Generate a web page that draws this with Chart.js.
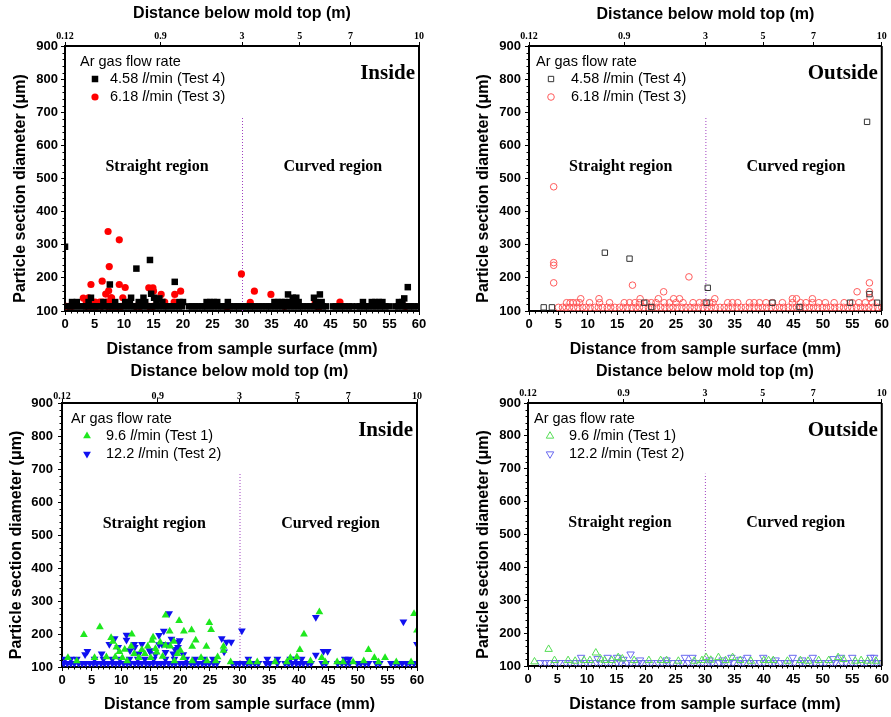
<!DOCTYPE html>
<html>
<head>
<meta charset="utf-8">
<script src="https://cdn.jsdelivr.net/npm/chart.js@4.4.1/dist/chart.umd.min.js"></script>
<style>
  body { margin: 0; background: #fff; width: 891px; height: 717px; position: relative; overflow: hidden; }
  canvas { position: absolute; }
</style>
</head>
<body>
<canvas id="p1" width="445" height="358" style="left:0;top:0"></canvas>
<canvas id="p2" width="446" height="358" style="left:445px;top:0"></canvas>
<canvas id="p3" width="445" height="359" style="left:0;top:358px"></canvas>
<canvas id="p4" width="446" height="359" style="left:445px;top:358px"></canvas>
<script>
// values
const topTickPos = [0, 16.2, 30, 39.8, 48.4, 60];
const topTickLabels = ["0.12", "0.9", "3", "5", "7", "10"];
const regionBoundary = 30;
const boundaryTop = 685;
const regionLabels = ["Straight region", "Curved region"];
const regionLabelX = [15.6, 45.4];
const regionLabelY = 535;

const flowRates = ["4.58", "6.18", "9.6", "12.2"];
const testNames = ["Test 4", "Test 3", "Test 1", "Test 2"];

// Test 4 (4.58 l/min), inside
const test4Inside = [
  [0,294],[7.6,180],[12.1,228],[14.4,254],[18.6,188],[58.1,172],
  [14.6,152],[37.8,150],[43.2,150],
  [4.4,140],[11.2,140],[13.3,140],[15.1,140],[16.0,138],[38.6,140],[39.2,140],[42.2,140],[57.5,138],
  [1.2,127],[2.0,127],[4.0,127],[6.5,127],[8.5,127],[10.2,127],[11.0,127],[12.5,127],[13.6,127],[15.5,127],
  [16.5,127],[19.4,127],[20.0,127],[24.0,127],[24.6,127],[25.2,127],[25.8,127],[27.6,127],[35.5,127],[36.1,127],
  [36.7,127],[37.3,127],[38.0,127],[39.0,127],[39.6,127],[42.5,127],[43.5,127],[50.5,127],[52.0,127],[52.6,127],
  [53.2,127],[53.8,127],[56.6,127],[57.2,127],
  [0.4,114],[0.9,114],[1.5,114],[2.0,114],[2.6,114],[3.1,114],[3.6,114],[4.1,114],[4.7,114],[5.2,114],
  [5.8,114],[6.3,114],[6.8,114],[7.4,114],[7.9,114],[8.5,114],[9.0,114],[9.5,114],[10.1,114],[10.6,114],
  [11.2,114],[11.7,114],[12.2,114],[12.8,114],[13.3,114],[13.9,114],[14.4,114],[14.9,114],[15.5,114],[16.0,114],
  [16.6,114],[17.1,114],[17.6,114],[18.2,114],[18.7,114],[19.3,114],[19.8,114],
  [21.0,114],[21.5,114],[22.1,114],[22.6,114],[23.2,114],[23.7,114],[24.2,114],[24.8,114],[25.3,114],[25.9,114],
  [26.4,114],[26.9,114],[27.5,114],[28.0,114],[28.6,114],[29.1,114],[29.6,114],[30.2,114],[30.7,114],[31.3,114],
  [31.8,114],[32.3,114],[32.9,114],[33.4,114],[34.0,114],[34.5,114],[35.0,114],[35.6,114],[36.1,114],[36.7,114],
  [37.2,114],[37.7,114],[38.3,114],[38.8,114],[39.4,114],[39.9,114],[40.4,114],[41.0,114],[41.5,114],[42.1,114],
  [42.6,114],[43.1,114],[43.7,114],[44.2,114],
  [45.4,114],[45.9,114],[46.5,114],[47.0,114],[47.5,114],[48.1,114],[48.6,114],
  [49.5,114],[50.0,114],[50.6,114],[51.1,114],[51.6,114],[52.2,114],[52.7,114],[53.3,114],[53.8,114],[54.3,114],[54.9,114],
  [56.0,114],[56.5,114],[57.1,114],[57.6,114],[58.2,114],[58.7,114],[59.2,114],[59.8,114]
];

// Test 3 (6.18 l/min), inside
const test3Inside = [
  [7.3,340],[9.2,315],[7.5,234],[6.3,190],[4.4,180],[9.2,180],[10.2,171],[7.4,161],[6.9,151],[7.9,140],
  [3.1,139],[4.0,140],[9.8,140],[14.2,170],[14.9,170],[15.0,160],[16.3,150],[18.6,150],[19.6,160],[18.5,127],
  [16.9,127],[29.9,212],[32.1,160],[34.9,150],[31.4,126],[42.4,127],[46.6,127],
  [3.6,127],[4.6,127],[5.1,127],[5.9,127],[6.4,127],[7.1,127],[8.2,127],[7.8,140],
  [0.2,114],[0.7,114],[1.2,114],[3.6,114],[4.3,114],[4.9,114],[5.4,114],[6.2,114],[7.2,114],[7.7,114],
  [8.3,114],[8.9,114],[9.5,114],[12.0,114],[12.7,114],[14.2,114],[14.9,114],[27.3,114],[27.7,114],[37.2,114],
  [42.7,114],[43.2,114],[57.7,114]
];

// Test 4 (4.58 l/min), outside
const test4Outside = [
  [2.5,111],[3.9,111],[12.9,276],[17.1,258],[30.4,170],[19.6,125],[41.4,125],[54.6,125],[57.9,151],
  [59.2,125],[57.5,671],[20.8,112],[30.2,125],[46.0,112]
];

// Test 3 (6.18 l/min), outside
const test3Outside = [
  [4.2,475],[4.2,246],[4.2,238],[4.2,185],[17.6,178],[27.2,203],[22.9,158],[55.8,158],[57.9,185],[57.9,158],[58.0,140],
  [8.8,137],[11.9,137],[18.9,137],[22.0,137],[24.6,137],[25.6,137],[31.6,137],[44.8,137],[45.5,137],[48.2,137],
  [6.4,125],[7.0,125],[7.5,125],[8.1,125],[8.6,125],[10.3,125],[12.0,125],[13.7,125],[16.2,125],[17.1,125],
  [18.0,125],[18.8,125],[20.0,125],[20.8,125],[21.6,125],[23.0,125],[23.9,125],[25.0,125],[26.2,125],[27.9,125],
  [29.0,125],[29.8,125],[30.7,125],[31.3,125],[33.8,125],[34.6,125],[35.5,125],[37.5,125],[38.3,125],[39.2,125],
  [40.3,125],[41.4,125],[43.1,125],[44.8,125],[46.2,125],[47.1,125],[48.2,125],[49.3,125],[50.4,125],[51.9,125],
  [53.6,125],[55.0,125],[56.1,125],[57.2,125],[58.4,125],
  [5.0,111],[5.7,111],[6.3,111],[6.9,111],[7.6,111],[8.3,111],[9.1,111],[9.7,111],[10.4,111],[11.2,111],
  [11.8,111],[12.5,111],[13.3,111],[13.9,111],[14.6,111],[15.4,111],[16.0,111],[16.7,111],[17.5,111],[18.2,111],
  [18.8,111],[19.5,111],[20.3,111],[21.0,111],[21.7,111],[22.4,111],[23.1,111],[23.9,111],[24.5,111],[25.2,111],
  [26.0,111],[26.7,111],[27.4,111],[28.1,111],[28.8,111],[29.6,111],[30.3,111],[31.0,111],[31.7,111],[32.5,111],
  [33.2,111],[33.9,111],[34.6,111],[35.4,111],[36.1,111],[36.8,111],[37.5,111],[38.3,111],[39.0,111],[39.7,111],
  [40.4,111],[41.2,111],[41.9,111],[42.6,111],[43.3,111],[44.1,111],[44.8,111],[45.5,111],[46.2,111],[47.0,111],
  [47.7,111],[48.4,111],[49.1,111],[49.9,111],[50.6,111],[51.3,111],[52.0,111],[52.8,111],[53.5,111],[54.2,111],
  [54.9,111],[55.7,111],[56.4,111],[57.1,111],[57.8,111],[58.5,111],[59.3,111],[60.0,111]
];

// Test 1 (9.6 l/min), inside
const test1Inside = [
  [3.7,198],[6.4,221],[8.3,189],[8.6,177],[11.8,199],[15.4,190],[17.5,257],[19.8,240],[18.2,208],[20.6,208],
  [21.9,212],[24.9,234],[25.2,213],[22.6,181],[22.0,162],[24.4,162],[27.3,162],[27.3,150],[15.2,180],[16.6,175],
  [17.5,165],[11.7,163],[10.6,153],[13.5,152],[14.5,163],[18.3,163],[18.9,177],[9.7,146],[12.2,140],[16.0,145],
  [19.5,140],[9.2,160],[15.8,155],[20.0,150],[14.0,140],[43.5,267],[40.9,199],[40.2,152],[51.8,152],[52.8,128],
  [54.6,128],[59.5,261],[60,211],[43.9,128],[38.6,128],[26.3,130],[39.7,130],
  [1.0,128],[2.5,118],[5.5,128],[7.5,130],[9.0,130],[10.2,128],[13.0,128],[15.0,128],[17.0,132],[20.5,128],
  [23.5,128],[26.0,118],[28.5,115],[31.7,115],[33.0,115],[36.0,115],[38.0,115],[42.0,118],[44.5,115],[46.5,115],
  [47.5,115],[49.2,115],[51.0,118],[53.5,115],[56.5,115],[59.0,115],[11.0,118],[19.0,118],[22.0,118],[24.5,118]
];

// Test 2 (12.2 l/min), inside
const test2Inside = [
  [18.1,262],[30.4,210],[42.9,251],[57.7,237],[60,169],[10.9,197],[8.9,186],[12.2,169],[13.5,169],[14.9,146],
  [16.4,196],[17.2,209],[16.4,168],[17.7,168],[19.7,176],[19.1,154],[8.0,169],[4.3,148],[3.9,138],[6.7,140],
  [27.0,186],[27.8,176],[28.6,176],[27.4,146],[42.9,136],[44.2,148],[44.9,148],[9.5,160],[12.3,160],[10.9,182],
  [18.5,185],[19.9,180],[19.6,160],[16.9,169],[14.8,150],[11.5,150],[13.0,140],[15.8,138],[17.5,145],[18.8,140],
  [20.5,138],
  [0.5,124],[1.5,124],[2.5,124],[5.5,124],[7.0,124],[8.5,124],[9.8,124],[11.4,124],[12.8,124],[14.0,124],
  [15.5,124],[17.5,124],[19.0,124],[21.0,124],[22.5,124],[24.0,124],[25.5,124],[31.5,124],[34.7,124],[36.4,124],
  [38.6,124],[39.5,124],[40.5,124],[47.8,124],[48.5,124],
  [0.3,111],[0.9,111],[1.5,111],[2.1,111],[2.8,111],[3.4,111],[4.0,111],[4.7,111],[5.3,111],[5.9,111],
  [6.6,111],[7.2,111],[7.8,111],[8.5,111],[9.1,111],[9.7,111],[10.4,111],[11.0,111],[11.6,111],[12.3,111],
  [12.9,111],[13.5,111],[14.2,111],[14.8,111],[15.4,111],[16.1,111],[16.7,111],[17.3,111],[18.0,111],[18.6,111],
  [19.2,111],[19.9,111],[20.5,111],[21.1,111],[21.8,111],[22.4,111],[23.0,111],[23.7,111],[24.3,111],[24.9,111],
  [25.6,111],[26.2,111],[28.8,111],[29.4,111],[30.0,111],[30.7,111],[31.3,111],[31.9,111],[32.6,111],[33.2,111],
  [34.5,111],[35.1,111],[36.4,111],[37.7,111],[38.3,111],[38.9,111],[39.6,111],[40.2,111],[40.8,111],[41.5,111],
  [42.1,111],[44.0,111],[44.6,111],[46.6,111],[47.3,111],[48.0,111],[48.6,111],[49.9,111],[50.5,111],[51.2,111],
  [51.8,111],[53.1,111],[53.7,111],[55.6,111],[56.3,111],[56.9,111],[57.5,111],[58.2,111],[58.8,111],[59.5,111]
];

// Test 1 (9.6 l/min), outside
const test1Outside = [
  [3.5,151],[1.1,113],[11.5,140],[15.3,126],[30.2,126],[32.3,126],[34.7,126],[52.6,126],[57.6,115],
  [4.5,117],[6.8,117],[8.0,115],[9.5,117],[10.5,117],[12.3,122],[13.0,117],[14.2,117],[16.0,122],[18.0,117],
  [20.5,117],[22.5,117],[23.5,117],[25.5,115],[28.2,115],[29.5,117],[31.0,118],[33.5,117],[36.0,117],[37.8,115],
  [40.0,117],[40.8,117],[41.6,117],[44.0,115],[46.2,117],[47.5,115],[49.3,117],[51.0,117],[53.5,120],[55.5,115],
  [56.5,117],[59.0,115]
];

// Test 2 (12.2 l/min), outside
const test2Outside = [
  [17.4,136],[9.0,126],[13.5,126],[15.1,126],[26.6,126],[27.9,126],[34.5,126],[37.2,126],[39.9,126],[44.9,126],
  [48.3,126],[53.1,126],[55.0,126],[58.1,126],[58.7,126],[11.8,122],[16.2,120],[19.0,118],[23.5,118],[30.8,118],
  [33.0,118],[36.0,120],[42.0,118],[46.5,118],[51.8,122],
  [2.1,110],[2.9,110],[3.6,110],[4.7,110],[5.3,110],[6.4,110],[7.1,110],[8.1,110],[8.8,110],[9.9,110],
  [10.5,110],[11.6,110],[12.3,110],[13.3,110],[14.0,110],[15.1,110],[15.7,110],[16.8,110],[17.5,110],[18.5,110],
  [19.2,110],[20.3,110],[20.9,110],[22.0,110],[22.7,110],[23.7,110],[24.4,110],[25.5,110],[26.1,110],[27.2,110],
  [27.9,110],[28.9,110],[29.6,110],[30.7,110],[31.3,110],[32.4,110],[33.1,110],[34.1,110],[34.8,110],[35.9,110],
  [36.5,110],[37.6,110],[38.3,110],[39.3,110],[40.0,110],[41.1,110],[41.7,110],[42.8,110],[43.5,110],[44.5,110],
  [45.2,110],[46.3,110],[46.9,110],[48.0,110],[48.7,110],[49.7,110],[50.4,110],[51.5,110],[52.1,110],[53.2,110],
  [53.9,110],[54.9,110],[55.6,110],[56.7,110],[57.3,110],[58.4,110],[59.1,110],[59.9,110]
];

const SANS = '"Liberation Sans", Arial, sans-serif';
const SERIF = '"Liberation Serif", "Times New Roman", serif';

const panels = [
  {
    canvas: "p1", width: 445, height: 358,
    area: { left: 65, right: 419, top: 46, bottom: 311 },
    yLabelPad: 3, topLabelPad: 0, titleTopPad: 6, titleBottomPad: 0, yTitleX: 21,
    legend: { textX: 15, markerX: 30, labelX: 45 },
    place: "Inside",
    sets: [
      { data: test4Inside, rate: 0, style: "rect", rotation: 0, radius: 4.6, fill: "#000", stroke: "#000", lw: 0 },
      { data: test3Inside, rate: 1, style: "circle", rotation: 0, radius: 3.6, fill: "#ff0000", stroke: "#ff0000", lw: 0 }
    ]
  },
  {
    canvas: "p2", width: 446, height: 358,
    area: { left: 84, right: 438, top: 46, bottom: 311 },
    yLabelPad: 4, topLabelPad: 0, titleTopPad: 7, titleBottomPad: 0, yTitleX: 39,
    legend: { textX: 7, markerX: 22, labelX: 42 },
    place: "Outside",
    sets: [
      { data: test4Outside, rate: 0, style: "rect", rotation: 0, radius: 3.8, fill: "rgba(0,0,0,0)", stroke: "#333", lw: 1 },
      { data: test3Outside, rate: 1, style: "circle", rotation: 0, radius: 3.3, fill: "rgba(0,0,0,0)", stroke: "#ff5a5a", lw: 1 }
    ]
  },
  {
    canvas: "p3", width: 445, height: 359,
    area: { left: 62, right: 417, top: 45, bottom: 309 },
    yLabelPad: 5, topLabelPad: -3, titleTopPad: 6, titleBottomPad: 4, yTitleX: 17,
    legend: { textX: 9, markerX: 25, labelX: 44 },
    place: "Inside",
    sets: [
      { data: test1Inside, rate: 2, style: "triangle", rotation: 0, radius: 4.5, fill: "#1ee81e", stroke: "#1ee81e", lw: 0 },
      { data: test2Inside, rate: 3, style: "triangle", rotation: 180, radius: 4.5, fill: "#1010f0", stroke: "#1010f0", lw: 0 }
    ]
  },
  {
    canvas: "p4", width: 446, height: 359,
    area: { left: 83, right: 438, top: 45, bottom: 308 },
    yLabelPad: 3, topLabelPad: 0, titleTopPad: 6, titleBottomPad: 4, yTitleX: 39,
    legend: { textX: 6, markerX: 22, labelX: 41 },
    place: "Outside",
    sets: [
      { data: test1Outside, rate: 2, style: "triangle", rotation: 0, radius: 4.3, fill: "rgba(0,0,0,0)", stroke: "#55dd55", lw: 1 },
      { data: test2Outside, rate: 3, style: "triangle", rotation: 180, radius: 4.3, fill: "rgba(0,0,0,0)", stroke: "#6a6af0", lw: 1 }
    ]
  }
];

const decor = {
  id: "decor",
  beforeDatasetsDraw(chart) {
    const { ctx, scales: { x, y } } = chart;
    const px = x.getPixelForValue(regionBoundary);
    ctx.save();
    ctx.strokeStyle = "#a040c0";
    ctx.lineWidth = 1;
    ctx.setLineDash([1, 2]);
    ctx.beginPath();
    ctx.moveTo(px + 0.5, y.getPixelForValue(100));
    ctx.lineTo(px + 0.5, y.getPixelForValue(boundaryTop));
    ctx.stroke();
    ctx.restore();
  },
  afterDraw(chart) {
    const p = chart.options.plugins.decor.panel;
    const { ctx, chartArea: a, scales: { x, y } } = chart;
    ctx.save();

    // right edge of the frame
    ctx.strokeStyle = "#000";
    ctx.lineWidth = 2;
    ctx.beginPath();
    ctx.moveTo(a.right, a.top);
    ctx.lineTo(a.right, a.bottom);
    ctx.stroke();

    // minor ticks
    ctx.lineWidth = 1;
    ctx.beginPath();
    for (let v = 0; v <= 60; v += 1) {
      if (v % 5 === 0) continue;
      const px = Math.round(x.getPixelForValue(v)) + 0.5;
      ctx.moveTo(px, a.bottom);
      ctx.lineTo(px, a.bottom + 2.5);
    }
    for (let v = 100; v <= 900; v += 20) {
      if (v % 100 === 0) continue;
      const py = Math.round(y.getPixelForValue(v)) + 0.5;
      ctx.moveTo(a.left, py);
      ctx.lineTo(a.left - 2.5, py);
    }
    ctx.stroke();

    // y axis title
    ctx.fillStyle = "#000";
    ctx.font = `bold 16px ${SANS}`;
    ctx.textAlign = "center";
    ctx.textBaseline = "middle";
    ctx.save();
    ctx.translate(p.yTitleX, (a.top + a.bottom) / 2 + 10);
    ctx.rotate(-Math.PI / 2);
    ctx.fillText("Particle section diameter (μm)", 0, 0);
    ctx.restore();

    // Inside / Outside
    ctx.font = `bold 21px ${SERIF}`;
    ctx.textAlign = "right";
    ctx.fillText(p.place, a.right - 4, a.top + 28);

    // region labels
    ctx.font = `bold 16px ${SERIF}`;
    ctx.textAlign = "center";
    regionLabels.forEach((t, i) => {
      ctx.fillText(t, x.getPixelForValue(regionLabelX[i]), y.getPixelForValue(regionLabelY));
    });

    // legend
    ctx.textAlign = "left";
    ctx.font = `14.5px ${SANS}`;
    ctx.fillText("Ar gas flow rate", a.left + p.legend.textX, a.top + 16);
    p.sets.forEach((s, i) => {
      const rowY = a.top + 33 + i * 18;
      ctx.fillStyle = s.fill;
      ctx.strokeStyle = s.stroke;
      ctx.lineWidth = s.lw;
      Chart.helpers.drawPoint(ctx, { pointStyle: s.style, rotation: s.rotation, radius: s.radius, borderWidth: s.lw },
        a.left + p.legend.markerX, rowY);
      ctx.fillStyle = "#000";
      let tx = a.left + p.legend.labelX;
      ctx.font = `14.5px ${SANS}`;
      const first = flowRates[s.rate] + " ";
      ctx.fillText(first, tx, rowY);
      tx += ctx.measureText(first).width;
      ctx.font = `italic 14.5px ${SANS}`;
      ctx.fillText("l", tx, rowY);
      tx += ctx.measureText("l").width;
      ctx.font = `14.5px ${SANS}`;
      ctx.fillText("/min (" + testNames[s.rate] + ")", tx, rowY);
    });
    ctx.restore();
  }
};

function makeChart(p) {
  const a = p.area;
  const tickFont = { family: SANS, size: 13, weight: "bold" };
  const titleFont = { family: SANS, size: 16, weight: "bold", lineHeight: 1 };
  return new Chart(document.getElementById(p.canvas), {
    type: "scatter",
    data: {
      datasets: p.sets.map((s) => ({
        data: s.data,
        pointStyle: s.style,
        pointRotation: s.rotation,
        pointRadius: s.radius,
        pointHoverRadius: s.radius,
        pointBackgroundColor: s.fill,
        pointBorderColor: s.stroke,
        pointBorderWidth: s.lw,
        backgroundColor: s.fill,
        borderColor: s.stroke
      }))
    },
    options: {
      responsive: false,
      animation: false,
      devicePixelRatio: 1,
      layout: { autoPadding: false, padding: { left: 0, top: 0, bottom: 0, right: p.width - a.right } },
      plugins: { legend: { display: false }, tooltip: { enabled: false }, decor: { panel: p } },
      scales: {
        x: {
          type: "linear", position: "bottom", min: 0, max: 60,
          ticks: { stepSize: 5, font: tickFont, color: "#000", padding: 2, maxRotation: 0, autoSkip: false },
          grid: { drawOnChartArea: false, tickLength: 4, color: "#000" },
          border: { display: true, color: "#000", width: 2 },
          title: { display: true, text: "Distance from sample surface (mm)", font: titleFont, color: "#000",
            padding: { top: 0, bottom: p.titleBottomPad } },
          afterFit: (s) => { s.height = p.height - a.bottom; }
        },
        x2: {
          type: "linear", position: "top", min: 0, max: 60,
          afterBuildTicks: (s) => { s.ticks = topTickPos.map((v) => ({ value: v })); },
          ticks: { callback: (v, i) => topTickLabels[i], font: { family: SERIF, size: 10, weight: "bold" },
            color: "#000", padding: p.topLabelPad, maxRotation: 0, autoSkip: false },
          grid: { drawOnChartArea: false, tickLength: 4, color: "#000" },
          border: { display: true, color: "#000", width: 2 },
          title: { display: true, text: "Distance below mold top (m)", font: titleFont, color: "#000",
            padding: { top: p.titleTopPad, bottom: 0 } },
          afterFit: (s) => { s.height = a.top; }
        },
        y: {
          type: "linear", position: "left", min: 100, max: 900,
          ticks: { stepSize: 100, font: tickFont, color: "#000", padding: p.yLabelPad },
          grid: { drawOnChartArea: false, tickLength: 4, color: "#000" },
          border: { display: true, color: "#000", width: 2 },
          afterFit: (s) => { s.width = a.left; }
        }
      }
    },
    plugins: [decor]
  });
}

panels.forEach(makeChart);
</script>
</body>
</html>
